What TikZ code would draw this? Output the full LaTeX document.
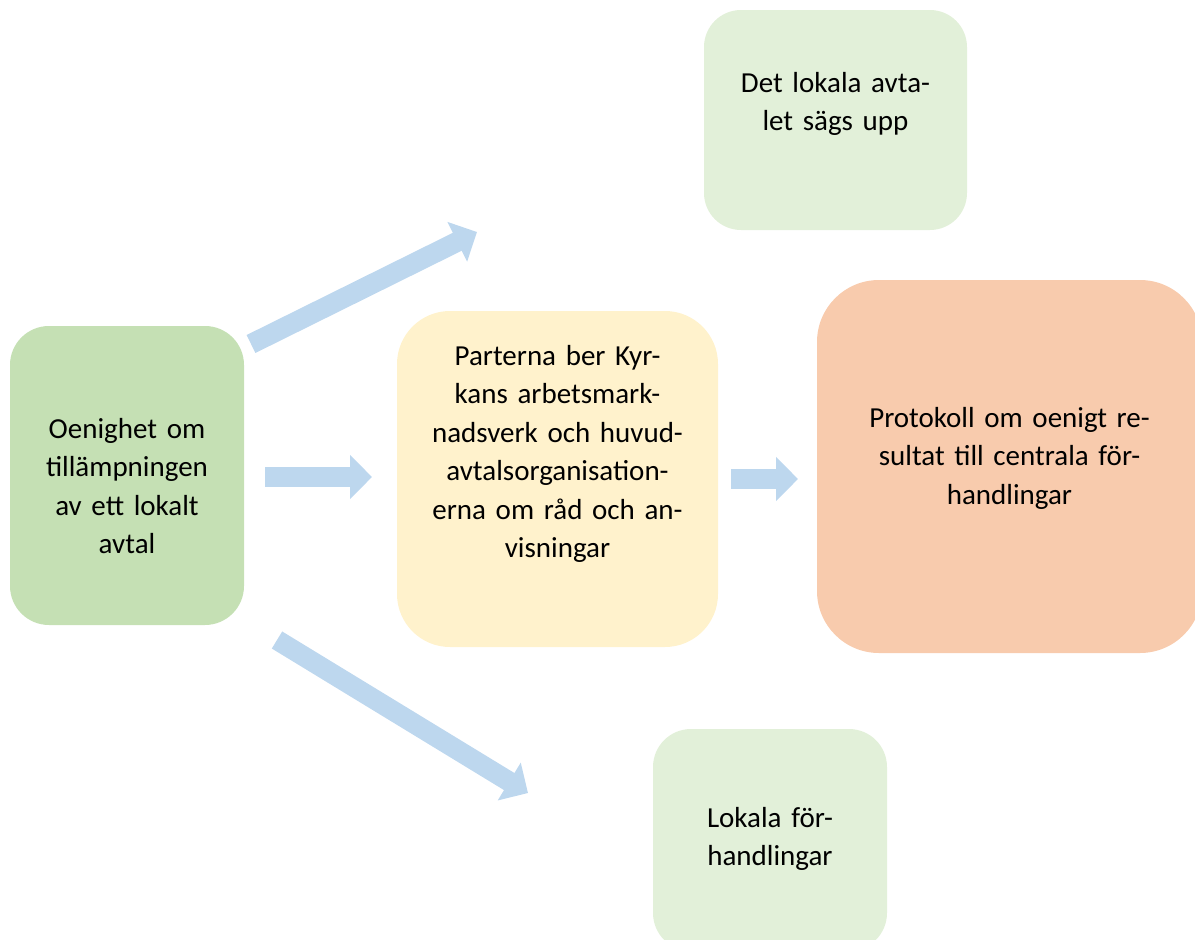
\documentclass[tikz,border=0pt]{standalone}
\usepackage{fontspec}
\setmainfont{Carlito}
\usetikzlibrary{arrows.meta}
\definecolor{gA}{HTML}{C5E0B4}
\definecolor{yB}{HTML}{FFF2CC}
\definecolor{oC}{HTML}{F8CBAD}
\definecolor{gL}{HTML}{E2F0D9}
\definecolor{bArr}{HTML}{BDD7EE}
\tikzset{
  box/.style={rectangle, inner sep=0pt, draw=none},
  lbl/.style={anchor=base, text width=420pt, align=center, inner sep=0pt,
    font=\fontsize{29}{38.5}\selectfont, text=black},
  blockarrow/.style={draw=bArr, line width=20pt,
    -{Triangle[length=22pt,width=43pt,fill=bArr,color=bArr]}}
}
\begin{document}
\begin{tikzpicture}[x=1pt,y=-1pt]
\useasboundingbox (0,0) rectangle (1195,940);
\clip (0,0) rectangle (1195,940);
% boxes
\node[box, fill=gA, rounded corners=39pt, minimum width=234pt, minimum height=299pt] (A) at (127,475.5) {};
\node[box, fill=yB, rounded corners=53pt, minimum width=321pt, minimum height=336pt] (B) at (557.5,479) {};
\node[box, fill=oC, rounded corners=62pt, minimum width=385pt, minimum height=373pt] (C) at (1009.5,466.5) {};
\node[box, fill=gL, rounded corners=37pt, minimum width=263pt, minimum height=220pt] (D) at (835.5,120) {};
\node[box, fill=gL, rounded corners=38pt, minimum width=234pt, minimum height=222pt] (E) at (770,840) {};
% texts
\node[lbl] (tA) at (127,438) {Oenighet om\\tillämpningen\\av ett lokalt\\avtal};
\node[lbl] (tB) at (557.5,365) {Parterna ber Kyr-\\kans arbetsmark-\\nadsverk och huvud-\\avtalsorganisation-\\erna om råd och an-\\visningar};
\node[lbl] (tC) at (1009.5,427) {Protokoll om oenigt re-\\sultat till centrala för-\\handlingar};
\node[lbl] (tD) at (835.5,92) {Det lokala avta-\\let sägs upp};
\node[lbl] (tE) at (770,827) {Lokala för-\\handlingar};
% arrow end points
\coordinate (a1s) at (251,344);
\coordinate (a1e) at (477,232);
\coordinate (a2s) at (265,477);
\coordinate (a2e) at (372,477);
\coordinate (a3s) at (731,479);
\coordinate (a3e) at (798,479);
\coordinate (a4s) at (277,640);
\coordinate (a4e) at (528,793);
\draw[blockarrow] (a1s) -- (a1e);
\draw[blockarrow] (a2s) -- (a2e);
\draw[blockarrow] (a3s) -- (a3e);
\draw[blockarrow] (a4s) -- (a4e);
\end{tikzpicture}
\end{document}
